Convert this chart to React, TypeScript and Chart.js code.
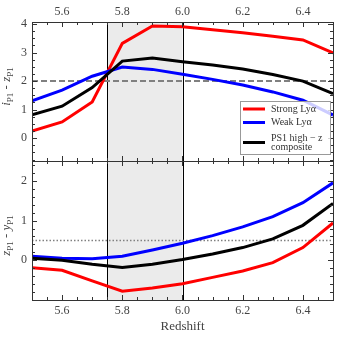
import React, { useEffect, useRef } from "react";
import { Chart, registerables } from "chart.js";

Chart.register(...registerables);

const REDSHIFT = [5.5, 5.6, 5.7, 5.8, 5.9, 6.0, 6.1, 6.2, 6.3, 6.4, 6.5];

// top panel: i_P1 - z_P1
const IZ_STRONG = [0.25, 0.57, 1.27, 3.32, 3.93, 3.9, 3.8, 3.69, 3.57, 3.44, 2.99];
const IZ_WEAK = [1.31, 1.68, 2.17, 2.49, 2.41, 2.24, 2.06, 1.86, 1.62, 1.33, 0.81];
const IZ_PS1 = [0.82, 1.12, 1.77, 2.7, 2.81, 2.68, 2.56, 2.42, 2.23, 2.0, 1.56];

// bottom panel: z_P1 - y_P1
const ZY_STRONG = [-0.19, -0.25, -0.52, -0.78, -0.7, -0.59, -0.43, -0.27, -0.06, 0.32, 0.94];
const ZY_WEAK = [0.1, 0.05, 0.04, 0.1, 0.26, 0.43, 0.62, 0.84, 1.1, 1.45, 1.95];
const ZY_PS1 = [0.05, 0.0, -0.1, -0.18, -0.1, 0.02, 0.16, 0.32, 0.54, 0.88, 1.43];

const IZ_REF = 2.0;
const ZY_REF = 0.5;
const SHADE_RANGE = [5.75, 6.0];

const X_TICKS = [5.6, 5.8, 6.0, 6.2, 6.4];
const IZ_TICKS = [0, 1, 2, 3, 4];
const ZY_TICKS = [0, 1, 2];

const X_RANGE = [5.5, 6.5];
const IZ_RANGE = [-0.8, 4.07];
const ZY_RANGE = [-1.0, 2.5];

const SERIES_NAMES = ["Strong Ly\u03b1", "Weak Ly\u03b1", "PS1 high \u2212 z|composite"];
const SERIES_COLORS = ["#ff0000", "#0000ff", "#000000"];

const FONT = "'Liberation Serif', 'Times New Roman', serif";

function pts(ys: number[]) {
  return REDSHIFT.map((x, i) => ({ x, y: ys[i] }));
}

export default function App() {
  const ref = useRef<HTMLCanvasElement | null>(null);

  useEffect(() => {
    document.body.style.margin = "0";
    const canvas = ref.current!;

    const drawSub = (
      ctx: CanvasRenderingContext2D,
      parts: { t: string; sub?: boolean; it?: boolean }[],
      size: number
    ) => {
      let total = 0;
      const fonts = parts.map((p) =>
        `${p.it ? "italic " : ""}${p.sub ? Math.round(size * 0.7) : size}px ${FONT}`
      );
      parts.forEach((p, i) => {
        ctx.font = fonts[i];
        total += ctx.measureText(p.t).width;
      });
      let x = -total / 2;
      parts.forEach((p, i) => {
        ctx.font = fonts[i];
        ctx.fillText(p.t, x, p.sub ? size * 0.25 : 0);
        x += ctx.measureText(p.t).width;
      });
    };

    const decor = {
      id: "decor",
      beforeDatasetsDraw(chart: any) {
        const { ctx, chartArea } = chart;
        const xs = chart.scales.x;
        const x0 = xs.getPixelForValue(SHADE_RANGE[0]);
        const x1 = xs.getPixelForValue(SHADE_RANGE[1]);
        ctx.save();
        ctx.fillStyle = "#ebebeb";
        ctx.fillRect(x0, chartArea.top, x1 - x0, chartArea.bottom - chartArea.top);
        ctx.strokeStyle = "#000";
        ctx.lineWidth = 1;
        [x0, x1].forEach((px) => {
          ctx.beginPath();
          ctx.moveTo(Math.round(px) + 0.5, chartArea.top);
          ctx.lineTo(Math.round(px) + 0.5, chartArea.bottom);
          ctx.stroke();
        });
        ctx.restore();
      },
      afterDatasetsDraw(chart: any) {
        const { ctx, chartArea } = chart;
        const xs = chart.scales.x;
        const yTop = chart.scales.y;
        const yBot = chart.scales.y2;
        ctx.save();
        ctx.strokeStyle = "#333";
        ctx.lineWidth = 1;
        const L = chartArea.left, R = chartArea.right;
        const panels = [
          { s: yTop, minor: 0.25, major: IZ_TICKS, range: IZ_RANGE },
          { s: yBot, minor: 0.2, major: ZY_TICKS, range: ZY_RANGE },
        ];
        const line = (ax: number, ay: number, bx: number, by: number) => {
          ctx.beginPath();
          ctx.moveTo(ax, ay);
          ctx.lineTo(bx, by);
          ctx.stroke();
        };
        panels.forEach((p) => {
          const T = p.s.top, B = p.s.bottom;
          ctx.strokeRect(Math.round(L) + 0.5, Math.round(T) + 0.5, Math.round(R - L), Math.round(B - T));
          for (let v = X_RANGE[0]; v <= X_RANGE[1] + 1e-9; v += 0.05) {
            const isMajor = X_TICKS.some((t) => Math.abs(t - v) < 1e-6);
            const len = isMajor ? 5 : 3;
            const px = Math.round(xs.getPixelForValue(v)) + 0.5;
            line(px, B, px, B - len);
            line(px, T, px, T + len);
          }
          const start = Math.ceil(p.range[0] / p.minor) * p.minor;
          for (let v = start; v <= p.range[1] + 1e-9; v += p.minor) {
            const isMajor = p.major.some((t: number) => Math.abs(t - v) < 1e-6);
            const len = isMajor ? 5 : 3;
            const py = Math.round(p.s.getPixelForValue(v)) + 0.5;
            line(L, py, L + len, py);
            line(R, py, R - len, py);
          }
        });
        ctx.restore();
      },
      afterDraw(chart: any) {
        const { ctx } = chart;
        const yTop = chart.scales.y;
        const yBot = chart.scales.y2;
        ctx.save();
        ctx.fillStyle = "#444";
        ctx.textBaseline = "middle";
        ctx.textAlign = "left";
        ctx.save();
        ctx.translate(7, (yTop.top + yTop.bottom) / 2 - 5);
        ctx.rotate(-Math.PI / 2);
        drawSub(ctx, [
          { t: "i", it: true }, { t: "P1", sub: true }, { t: " - " },
          { t: "z", it: true }, { t: "P1", sub: true },
        ], 13);
        ctx.restore();
        ctx.save();
        ctx.translate(7, (yBot.top + yBot.bottom) / 2 + 5);
        ctx.rotate(-Math.PI / 2);
        drawSub(ctx, [
          { t: "z", it: true }, { t: "P1", sub: true }, { t: " - " },
          { t: "y", it: true }, { t: "P1", sub: true },
        ], 13);
        ctx.restore();

        // legend
        const lx = 240, ly = 101, lw = 90, lh = 53;
        ctx.fillStyle = "rgba(255,255,255,0.8)";
        ctx.fillRect(lx, ly, lw, lh);
        ctx.strokeStyle = "#999";
        ctx.lineWidth = 1;
        ctx.strokeRect(lx + 0.5, ly + 0.5, lw, lh);
        const rows = [109, 122.5, 142.5];
        ctx.font = `10px ${FONT}`;
        ctx.fillStyle = "#333";
        SERIES_NAMES.forEach((name, i) => {
          ctx.strokeStyle = SERIES_COLORS[i];
          ctx.lineWidth = 3;
          ctx.beginPath();
          ctx.moveTo(243, rows[i]);
          ctx.lineTo(265, rows[i]);
          ctx.stroke();
          const lines = name.split("|");
          if (lines.length === 1) {
            ctx.fillText(lines[0], 271, rows[i]);
          } else {
            ctx.fillText(lines[0], 271, rows[i] - 4.5);
            ctx.fillText(lines[1], 271, rows[i] + 4.5);
          }
        });
        ctx.restore();
      },
    };

    const mk = (label: string, data: number[], color: string, yAxisID: string) => ({
      label,
      data: pts(data),
      borderColor: color,
      backgroundColor: color,
      borderWidth: 3,
      pointRadius: 0,
      fill: false,
      tension: 0,
      yAxisID,
      xAxisID: "x",
    });
    const refLine = (y: number, yAxisID: string, dash: number[], width: number) => ({
      label: "ref",
      data: [{ x: X_RANGE[0], y }, { x: X_RANGE[1], y }],
      borderColor: "#808080",
      borderWidth: width,
      borderDash: dash,
      pointRadius: 0,
      fill: false,
      yAxisID,
      xAxisID: "x",
    });

    const tickFont = { family: FONT, size: 12 };
    const chart = new Chart(canvas, {
      type: "line",
      data: {
        datasets: [
          mk(SERIES_NAMES[2], IZ_PS1, SERIES_COLORS[2], "y"),
          mk(SERIES_NAMES[1], IZ_WEAK, SERIES_COLORS[1], "y"),
          mk(SERIES_NAMES[0], IZ_STRONG, SERIES_COLORS[0], "y"),
          mk(SERIES_NAMES[2], ZY_PS1, SERIES_COLORS[2], "y2"),
          mk(SERIES_NAMES[1], ZY_WEAK, SERIES_COLORS[1], "y2"),
          mk(SERIES_NAMES[0], ZY_STRONG, SERIES_COLORS[0], "y2"),
          refLine(IZ_REF, "y", [6, 3], 2),
          refLine(ZY_REF, "y2", [1.5, 2], 1.5),
        ] as any,
      },
      options: {
        animation: false,
        responsive: false,
        events: [],
        layout: { padding: { top: 0, right: 6, bottom: 0, left: 0 } },
        plugins: { legend: { display: false }, tooltip: { enabled: false } },
        scales: {
          x: {
            type: "linear",
            position: "bottom",
            min: X_RANGE[0],
            max: X_RANGE[1],
            afterBuildTicks: (s: any) => { s.ticks = X_TICKS.map((v) => ({ value: v })); },
            afterFit: (s: any) => { s.height = 39; },
            grid: { display: false, drawTicks: false },
            border: { display: false },
            ticks: { font: tickFont, color: "#444", padding: 4, maxRotation: 0, callback: (v: any) => Number(v).toFixed(1) },
            title: { display: true, text: "Redshift", font: { family: FONT, size: 13 }, color: "#444", padding: { top: 0, bottom: 5 } },
          },
          xTop: {
            type: "linear",
            position: "top",
            min: X_RANGE[0],
            max: X_RANGE[1],
            afterBuildTicks: (s: any) => { s.ticks = X_TICKS.map((v) => ({ value: v })); },
            afterFit: (s: any) => { s.height = 22; },
            grid: { display: false, drawTicks: false },
            border: { display: false },
            ticks: { font: tickFont, color: "#444", padding: 3, maxRotation: 0, callback: (v: any) => Number(v).toFixed(1) },
          },
          y2: {
            type: "linear",
            position: "left",
            stack: "panels",
            stackWeight: 1,
            min: ZY_RANGE[0],
            max: ZY_RANGE[1],
            afterBuildTicks: (s: any) => { s.ticks = ZY_TICKS.map((v) => ({ value: v })); },
            afterFit: (s: any) => { s.width = 32; },
            grid: { display: false, drawTicks: false },
            border: { display: false },
            ticks: { font: tickFont, color: "#444", padding: 5 },
          },
          y: {
            type: "linear",
            position: "left",
            stack: "panels",
            stackWeight: 1,
            min: IZ_RANGE[0],
            max: IZ_RANGE[1],
            afterBuildTicks: (s: any) => { s.ticks = IZ_TICKS.map((v) => ({ value: v })); },
            afterFit: (s: any) => { s.width = 32; },
            grid: { display: false, drawTicks: false },
            border: { display: false },
            ticks: { font: tickFont, color: "#444", padding: 5 },
          },
        },
      } as any,
      plugins: [decor],
    });
    return () => chart.destroy();
  }, []);

  return <canvas ref={ref} width={339} height={339} style={{ display: "block" }} />;
}
